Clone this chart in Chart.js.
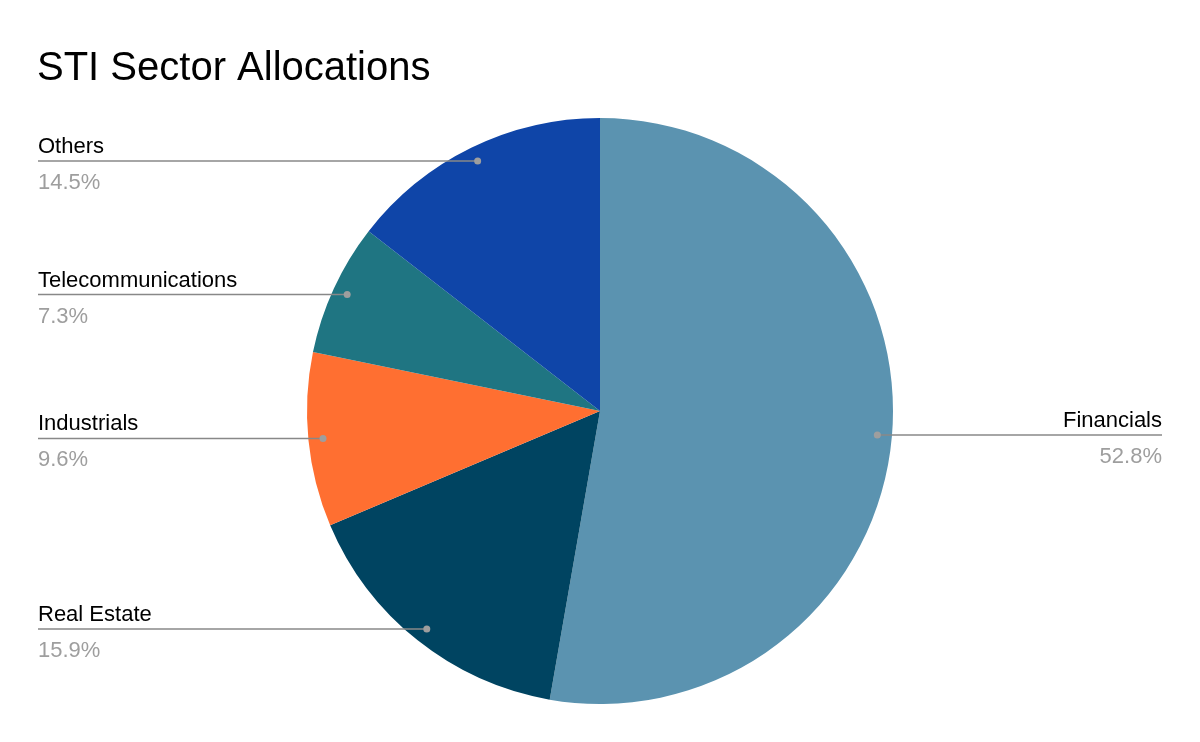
<!DOCTYPE html>
<html><head><meta charset="utf-8">
<script src="https://cdn.jsdelivr.net/npm/chart.js"></script>
<style>html,body{margin:0;padding:0;background:#fff}#w{width:1200px;height:742px}</style>
</head><body><div id="w"><canvas id="c"></canvas></div>
<script>
const labels = ["Financials","Real Estate","Industrials","Telecommunications","Others"];
const values = [52.8,15.9,9.6,7.3,14.5];
const colors = ["#5b93b0","#004461","#ff6f31","#1f7582","#0f45a8"];

const leader = {
  id:'leader',
  afterDraw(chart){
    const ctx = chart.ctx;
    ctx.save();
    ctx.fillStyle='#000';ctx.font='40px "Liberation Sans", Arial, sans-serif';
    ctx.textAlign='left';ctx.textBaseline='alphabetic';
    ctx.fillText('STI Sector Allocations',37,80);
    const meta = chart.getDatasetMeta(0);
    meta.data.forEach((arc,i)=>{
      const mid=(arc.startAngle+arc.endAngle)/2;
      const r=arc.outerRadius*0.95;
      const px=arc.x+Math.cos(mid)*r, py=arc.y+Math.sin(mid)*r;
      const right=px>arc.x;
      const ex=right?1162:38;
      ctx.strokeStyle='#888';ctx.lineWidth=1.5;
      ctx.beginPath();ctx.moveTo(px,py);ctx.lineTo(ex,py);ctx.stroke();
      ctx.fillStyle='#9e9e9e';ctx.beginPath();ctx.arc(px,py,3.5,0,Math.PI*2);ctx.fill();
      ctx.textAlign=right?'right':'left';
      ctx.font='22px "Liberation Sans", Arial, sans-serif';
      ctx.fillStyle='#000';ctx.fillText(labels[i],ex,py-8);
      ctx.fillStyle='#9e9e9e';ctx.fillText(values[i].toFixed(1)+'%',ex,py+28);
    });
    ctx.restore();
  }
};
new Chart(document.getElementById('c'),{
  type:'pie',
  data:{labels,datasets:[{data:values,backgroundColor:colors,borderWidth:0}]},
  options:{responsive:true,maintainAspectRatio:false,animation:false,
    layout:{padding:{top:118,bottom:38}},
    plugins:{legend:{display:false},tooltip:{enabled:false}}},
  plugins:[leader]
});
</script></body></html>
